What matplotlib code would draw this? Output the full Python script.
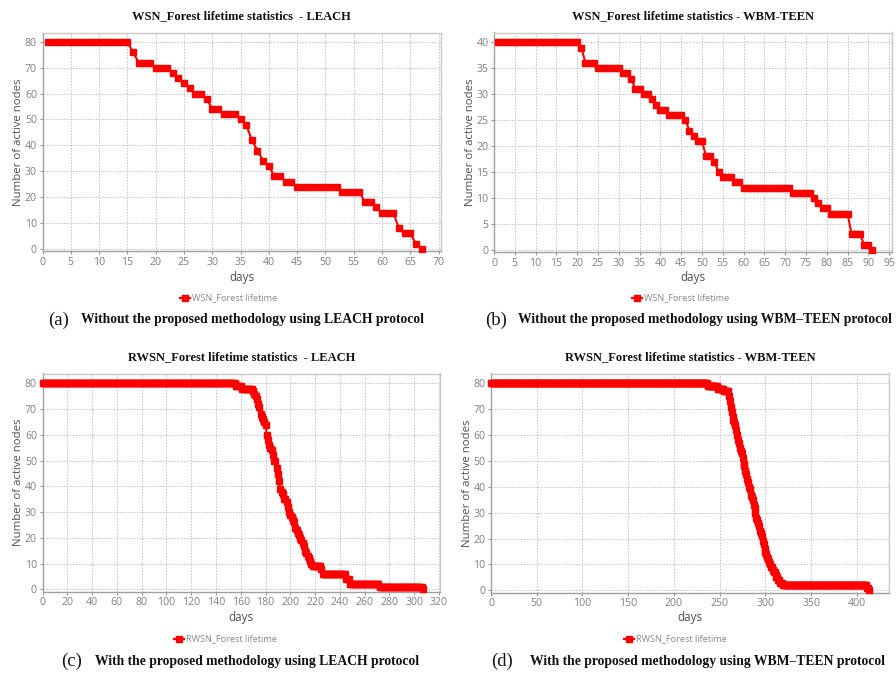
import numpy as np
import matplotlib
matplotlib.use("Agg")
import matplotlib.pyplot as plt
from matplotlib.lines import Line2D

# ---------------- data (run-length: first day of each level, level) -------------
a_start = [1, 16, 17, 20, 23, 24, 25, 26, 27, 29, 30, 32, 35, 36, 37, 38, 39, 40,
           41, 43, 45, 53, 57, 59, 60, 63, 64, 66, 67]
a_level = [80, 76, 72, 70, 68, 66, 64, 62, 60, 58, 54, 52, 50, 48, 42, 38, 34, 32,
           28, 26, 24, 22, 18, 16, 14, 8, 6, 2, 0]
a_end = 67

b_start = [1, 21, 22, 25, 31, 33, 34, 36, 38, 39, 40, 42, 46, 47, 48, 49, 51, 53,
           54, 55, 58, 60, 72, 77, 78, 79, 81, 86, 89, 91]
b_level = [40, 39, 36, 35, 34, 33, 31, 30, 29, 28, 27, 26, 25, 23, 22, 21, 18, 17,
           15, 14, 13, 12, 11, 10, 9, 8, 7, 3, 1, 0]
b_end = 91

c_start = [0, 156, 161, 170, 171, 172, 173, 174, 175, 176, 177, 178, 179, 180, 181,
           182, 183, 184, 185, 186, 187, 189, 190, 191, 192, 193, 194, 195, 197, 198,
           199, 200, 201, 202, 203, 204, 205, 206, 207, 208, 209, 210, 211, 212, 213,
           214, 215, 216, 217, 218, 225, 226, 245, 248, 272, 307]
c_level = [80, 79, 78, 77, 76, 75, 74, 72, 71, 68, 67, 66, 65, 64, 60,
           58, 56, 55, 54, 52, 50, 47, 45, 42, 39, 38, 37, 35, 34, 32,
           30, 29, 28, 27, 26, 24, 23, 22, 21, 20, 19, 18, 17, 15, 14,
           13, 12, 11, 10, 9, 8, 6, 4, 2, 1, 0]
c_end = 307

d_start = [0, 237, 248, 255, 260, 261, 262, 263, 264, 265, 266, 267, 268, 269, 270,
           271, 272, 273, 274, 275, 276, 277, 278, 279, 280, 281, 282, 283, 284, 285,
           286, 287, 288, 289, 290, 291, 292, 293, 294, 295, 296, 297, 298, 299, 300,
           301, 302, 303, 304, 305, 306, 308, 309, 311, 312, 314, 316, 319, 411, 413]
d_level = [80, 79, 78, 77, 75, 73, 71, 69, 67, 66, 65, 64, 62, 60, 58,
           57, 55, 54, 53, 51, 49, 48, 46, 45, 43, 42, 40, 39, 37, 36,
           35, 33, 32, 30, 28, 27, 26, 25, 23, 22, 21, 19, 18, 16, 15,
           14, 13, 12, 11, 10, 9, 8, 7, 6, 5, 4, 3, 2, 1, 0]
d_end = 413

titles = ["WSN_Forest lifetime statistics  - LEACH",
          "WSN_Forest lifetime statistics - WBM-TEEN",
          "RWSN_Forest lifetime statistics  - LEACH",
          "RWSN_Forest lifetime statistics - WBM-TEEN"]
legend_labels = ["WSN_Forest lifetime", "WSN_Forest lifetime",
                 "RWSN_Forest lifetime", "RWSN_Forest lifetime"]
caption_tags = ["(a)", "(b)", "(c)", "(d)"]
captions = ["Without the proposed methodology using LEACH protocol",
            "Without the proposed methodology using WBM\u2013TEEN protocol",
            "With the proposed methodology using LEACH protocol",
            "With the proposed methodology using WBM\u2013TEEN protocol"]
x_ticks = [np.arange(0, 71, 5), np.arange(0, 96, 5), np.arange(0, 321, 20), np.arange(0, 401, 50)]
y_ticks = [np.arange(0, 81, 10), np.arange(0, 41, 5), np.arange(0, 81, 10), np.arange(0, 81, 10)]


def expand(starts, levels, end):
    days = np.arange(starts[0], end + 1)
    idx = np.searchsorted(np.asarray(starts), days, side="right") - 1
    return days, np.asarray(levels)[idx]


series = [expand(a_start, a_level, a_end), expand(b_start, b_level, b_end),
          expand(c_start, c_level, c_end), expand(d_start, d_level, d_end)]

# ---------------- layout (pixel boxes) ----------------
W, H = 896, 673
fig = plt.figure(figsize=(W / 100, H / 100), dpi=100)
fig.patch.set_facecolor("white")

# left, top, right, bottom in pixels; xlim max, ylim max
boxes = [(42.5, 32.5, 440.5, 251.0, 70.35, 83.6),
         (494.0, 32.5, 892.0, 252.0, 95.7, 41.9),
         (42.5, 373.5, 440.0, 591.5, 320.8, 83.85),
         (491.0, 373.5, 889.0, 592.5, 435.0, 83.8)]
title_y = [16, 16, 357, 357]
days_y = [277, 277, 617, 617]
legend_y = [298, 298, 638.5, 638.5]
legend_x = [185, 637, 179, 629]
cap_tag_x = [59, 496, 72, 502]
cap_text_x = [81, 518, 95, 530]
cap_y = [320, 320, 661, 661]

RED = "#ff0000"
GRID = "#c4c4c4"
TICKC = "#808080"
LABC = "#505050"
SANS = ["Open Sans", "DejaVu Sans"]
SERIF = ["Liberation Serif", "DejaVu Serif"]


def fx(x):
    return x / W


def fy(y):
    return 1 - y / H


for i, (l, t, r, b, xmax, ymax) in enumerate(boxes):
    ax = fig.add_axes([fx(l), fy(b), (r - l) / W, (b - t) / H])
    x, y = series[i]
    ax.plot(x, y, color=RED, lw=1.5, marker="s", ms=4.4, mec=RED, mfc=RED,
            zorder=3, clip_on=False)
    ax.set_xlim(0, xmax)
    ax.set_ylim(-0.01 * ymax, ymax)
    ax.set_xticks(x_ticks[i])
    ax.set_yticks(y_ticks[i])
    ax.grid(True, color=GRID, lw=0.7, ls=(0, (1.5, 1.5)))
    ax.set_axisbelow(True)
    for s in ax.spines.values():
        s.set_color("#c8c8c8")
        s.set_linewidth(1.0)
    ax.spines["left"].set_color("#a0a0a0")
    ax.spines["bottom"].set_color("#a0a0a0")
    ax.tick_params(colors=TICKC, labelsize=7.6, length=2, width=0.6, pad=2)
    for lab in ax.get_xticklabels() + ax.get_yticklabels():
        lab.set_family(SANS)
        lab.set_color(TICKC)
    ax.set_ylabel("Number of active nodes", fontsize=8.2, color=LABC, family=SANS,
                  labelpad=0.5)
    cx = (l + r) / 2
    fig.text(fx(cx), fy(days_y[i]), "days", ha="center", va="center",
             fontsize=8.4, color=LABC, family=SANS)
    fig.text(fx(cx), fy(title_y[i]), titles[i], ha="center", va="center",
             fontsize=9, fontweight="bold", family=SERIF, color="#111111")
    # legend
    lx = legend_x[i]
    fig.add_artist(Line2D([fx(lx - 5), fx(lx + 5)], [fy(legend_y[i])] * 2,
                          color=RED, lw=1.6, transform=fig.transFigure))
    fig.add_artist(Line2D([fx(lx)], [fy(legend_y[i])], color=RED, marker="s",
                          ms=4.4, transform=fig.transFigure))
    fig.text(fx(lx + 7), fy(legend_y[i]), legend_labels[i], ha="left", va="center",
             fontsize=6.6, color="#8a8a8a", family=SANS)
    # caption
    fig.text(fx(cap_tag_x[i]), fy(cap_y[i]), caption_tags[i], ha="center",
             va="center", fontsize=13.5, family=SERIF, color="#111111")
    fig.text(fx(cap_text_x[i]), fy(cap_y[i]), captions[i], ha="left",
             va="center", fontsize=9.8, fontweight="bold", family=SERIF,
             color="#111111")

fig.savefig("out.png", dpi=100, facecolor="white")
